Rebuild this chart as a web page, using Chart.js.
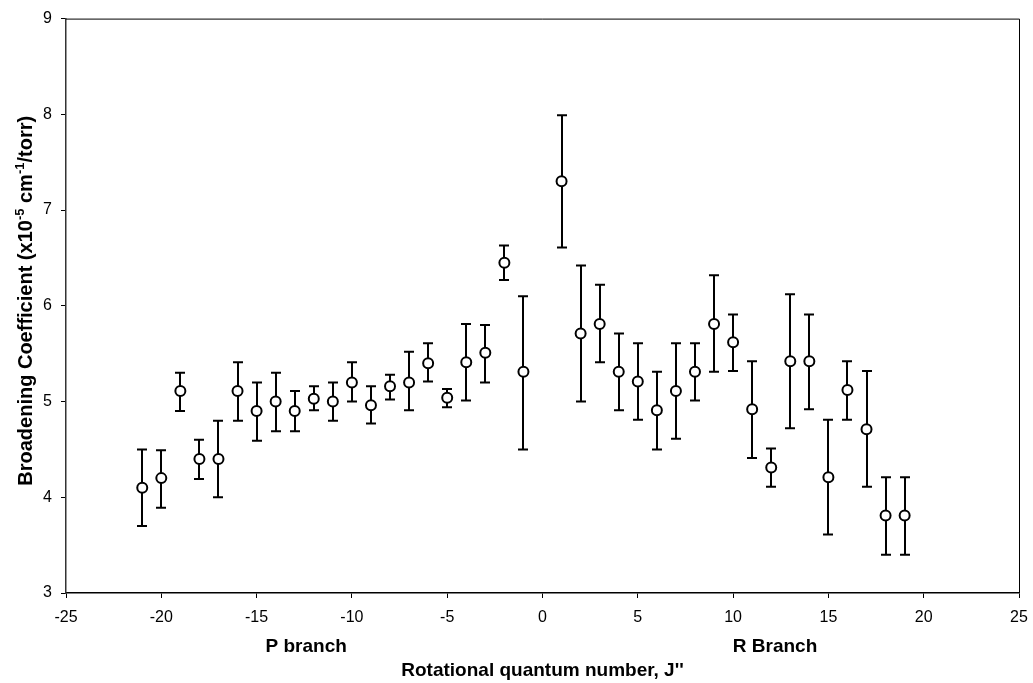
<!DOCTYPE html>
<html>
<head>
<meta charset="utf-8">
<script src="https://cdn.jsdelivr.net/npm/chart.js@4"></script>
<style>
  html, body { margin: 0; padding: 0; background: #fff; }
  #wrap { width: 1033px; height: 683px; }
</style>
</head>
<body>
<div id="wrap"><canvas id="broadeningChart" width="1033" height="683"></canvas></div>
<script>
// Rotational quantum number J'' (P branch negative, R branch positive)
const jValues = [-21, -20, -19, -18, -17, -16, -15, -14, -13, -12, -11, -10, -9, -8, -7, -6, -5, -4, -3, -2, -1,
                 1, 2, 3, 4, 5, 6, 7, 8, 9, 10, 11, 12, 13, 14, 15, 16, 17, 18, 19];
// Broadening coefficient, x10^-5 cm^-1/torr
const coeff = [4.10, 4.20, 5.11, 4.40, 4.40, 5.11, 4.90, 5.00, 4.90, 5.03, 5.00, 5.20, 4.96, 5.16, 5.20, 5.40, 5.04, 5.41, 5.51, 6.45, 5.31,
               7.30, 5.71, 5.81, 5.31, 5.21, 4.91, 5.11, 5.31, 5.81, 5.62, 4.92, 4.31, 5.42, 5.42, 4.21, 5.12, 4.71, 3.81, 3.81];
// Error bar ends
const errLow = [3.70, 3.89, 4.90, 4.19, 4.00, 4.80, 4.59, 4.69, 4.69, 4.91, 4.80, 5.00, 4.77, 5.02, 4.91, 5.21, 4.94, 5.01, 5.20, 6.27, 4.50,
                6.61, 5.00, 5.41, 4.91, 4.81, 4.50, 4.61, 5.01, 5.31, 5.32, 4.41, 4.11, 4.72, 4.92, 3.61, 4.81, 4.11, 3.40, 3.40];
const errHigh = [4.50, 4.49, 5.30, 4.60, 4.80, 5.41, 5.20, 5.30, 5.11, 5.16, 5.20, 5.41, 5.16, 5.28, 5.52, 5.61, 5.13, 5.81, 5.80, 6.63, 6.10,
                 7.99, 6.42, 6.22, 5.71, 5.61, 5.31, 5.61, 5.61, 6.32, 5.91, 5.42, 4.51, 6.12, 5.91, 4.81, 5.42, 5.32, 4.21, 4.21];

const xTicks = [-25, 25, 5];   // min, max, step
const yTicks = [3, 9, 1];

const branchLabels = ['P branch', 'R Branch'];
const branchCenters = [-12.4, 12.2];

const FONT = '"Liberation Sans", Arial, Helvetica, sans-serif';

const points = jValues.map((j, i) => ({ x: j, y: coeff[i], lo: errLow[i], hi: errHigh[i] }));

// vertical error bars with caps, drawn under the markers
const errorBars = {
    id: 'errorBars',
    beforeDatasetsDraw(chart) {
        const { ctx, scales: { x, y } } = chart;
        ctx.save();
        ctx.strokeStyle = '#000';
        ctx.lineWidth = 2;
        ctx.lineCap = 'butt';
        points.forEach(p => {
            const px = Math.round(x.getPixelForValue(p.x));
            const yTop = y.getPixelForValue(p.hi);
            const yBot = y.getPixelForValue(p.lo);
            ctx.beginPath();
            ctx.moveTo(px, yTop);
            ctx.lineTo(px, yBot);
            ctx.moveTo(px - 5, yTop);
            ctx.lineTo(px + 5, yTop);
            ctx.moveTo(px - 5, yBot);
            ctx.lineTo(px + 5, yBot);
            ctx.stroke();
        });
        ctx.restore();
    }
};

// frame, axis titles and branch labels
const decorations = {
    id: 'decorations',
    afterDraw(chart) {
        const { ctx, chartArea: a, scales: { x } } = chart;
        ctx.save();
        ctx.strokeStyle = '#000';
        ctx.lineWidth = 1;
        ctx.beginPath();
        ctx.moveTo(a.left, a.top + 0.5);
        ctx.lineTo(a.right + 0.5, a.top + 0.5);
        ctx.lineTo(a.right + 0.5, a.bottom);
        ctx.stroke();

        ctx.fillStyle = '#000';
        ctx.textBaseline = 'middle';
        ctx.textAlign = 'center';
        ctx.font = 'bold 19px ' + FONT;
        branchLabels.forEach((t, i) => {
            ctx.fillText(t, x.getPixelForValue(branchCenters[i]), 647);
        });
        ctx.fillText("Rotational quantum number, J''", (a.left + a.right) / 2, 671);

        // y title with superscripts, rotated
        const parts = [
            ['Broadening Coefficient (x10', false],
            ['-5', true],
            [' cm', false],
            ['-1', true],
            ['/torr)', false]
        ];
        const big = 'bold 20px ' + FONT, small = 'bold 13px ' + FONT;
        let total = 0;
        parts.forEach(([t, sup]) => { ctx.font = sup ? small : big; total += ctx.measureText(t).width; });
        ctx.translate(25, (a.top + a.bottom) / 2 - 5);
        ctx.rotate(-Math.PI / 2);
        ctx.textAlign = 'left';
        ctx.textBaseline = 'alphabetic';
        let cx = -total / 2;
        parts.forEach(([t, sup]) => {
            ctx.font = sup ? small : big;
            ctx.fillText(t, cx, sup ? -1 : 7);
            cx += ctx.measureText(t).width;
        });
        ctx.restore();
    }
};

new Chart(document.getElementById('broadeningChart'), {
    type: 'scatter',
    data: {
        datasets: [{
            data: points,
            pointStyle: 'circle',
            pointRadius: 5,
            pointHoverRadius: 5,
            pointBorderWidth: 2,
            pointBackgroundColor: '#fff',
            pointBorderColor: '#000'
        }]
    },
    options: {
        responsive: false,
        animation: false,
        layout: { padding: { top: 15, right: 14, left: 0, bottom: 0 } },
        plugins: {
            legend: { display: false },
            tooltip: { enabled: false }
        },
        scales: {
            x: {
                type: 'linear',
                min: xTicks[0],
                max: xTicks[1],
                ticks: { stepSize: xTicks[2], color: '#000', font: { family: FONT, size: 16 }, padding: 10, maxRotation: 0 },
                grid: { drawOnChartArea: false, tickLength: 5, color: '#000' },
                border: { color: '#000', width: 1.5 },
                afterFit(scale) {
                    scale.height = 90;
                    scale.paddingLeft = 0;
                    scale.paddingRight = 0;
                }
            },
            y: {
                min: yTicks[0],
                max: yTicks[1],
                ticks: { stepSize: yTicks[2], color: '#000', font: { family: FONT, size: 16 }, padding: 9 },
                grid: { drawOnChartArea: false, tickLength: 5, color: '#000' },
                border: { color: '#333', width: 1.5 },
                afterFit(scale) { scale.width = 66; }
            }
        }
    },
    plugins: [errorBars, decorations]
});
</script>
</body>
</html>
